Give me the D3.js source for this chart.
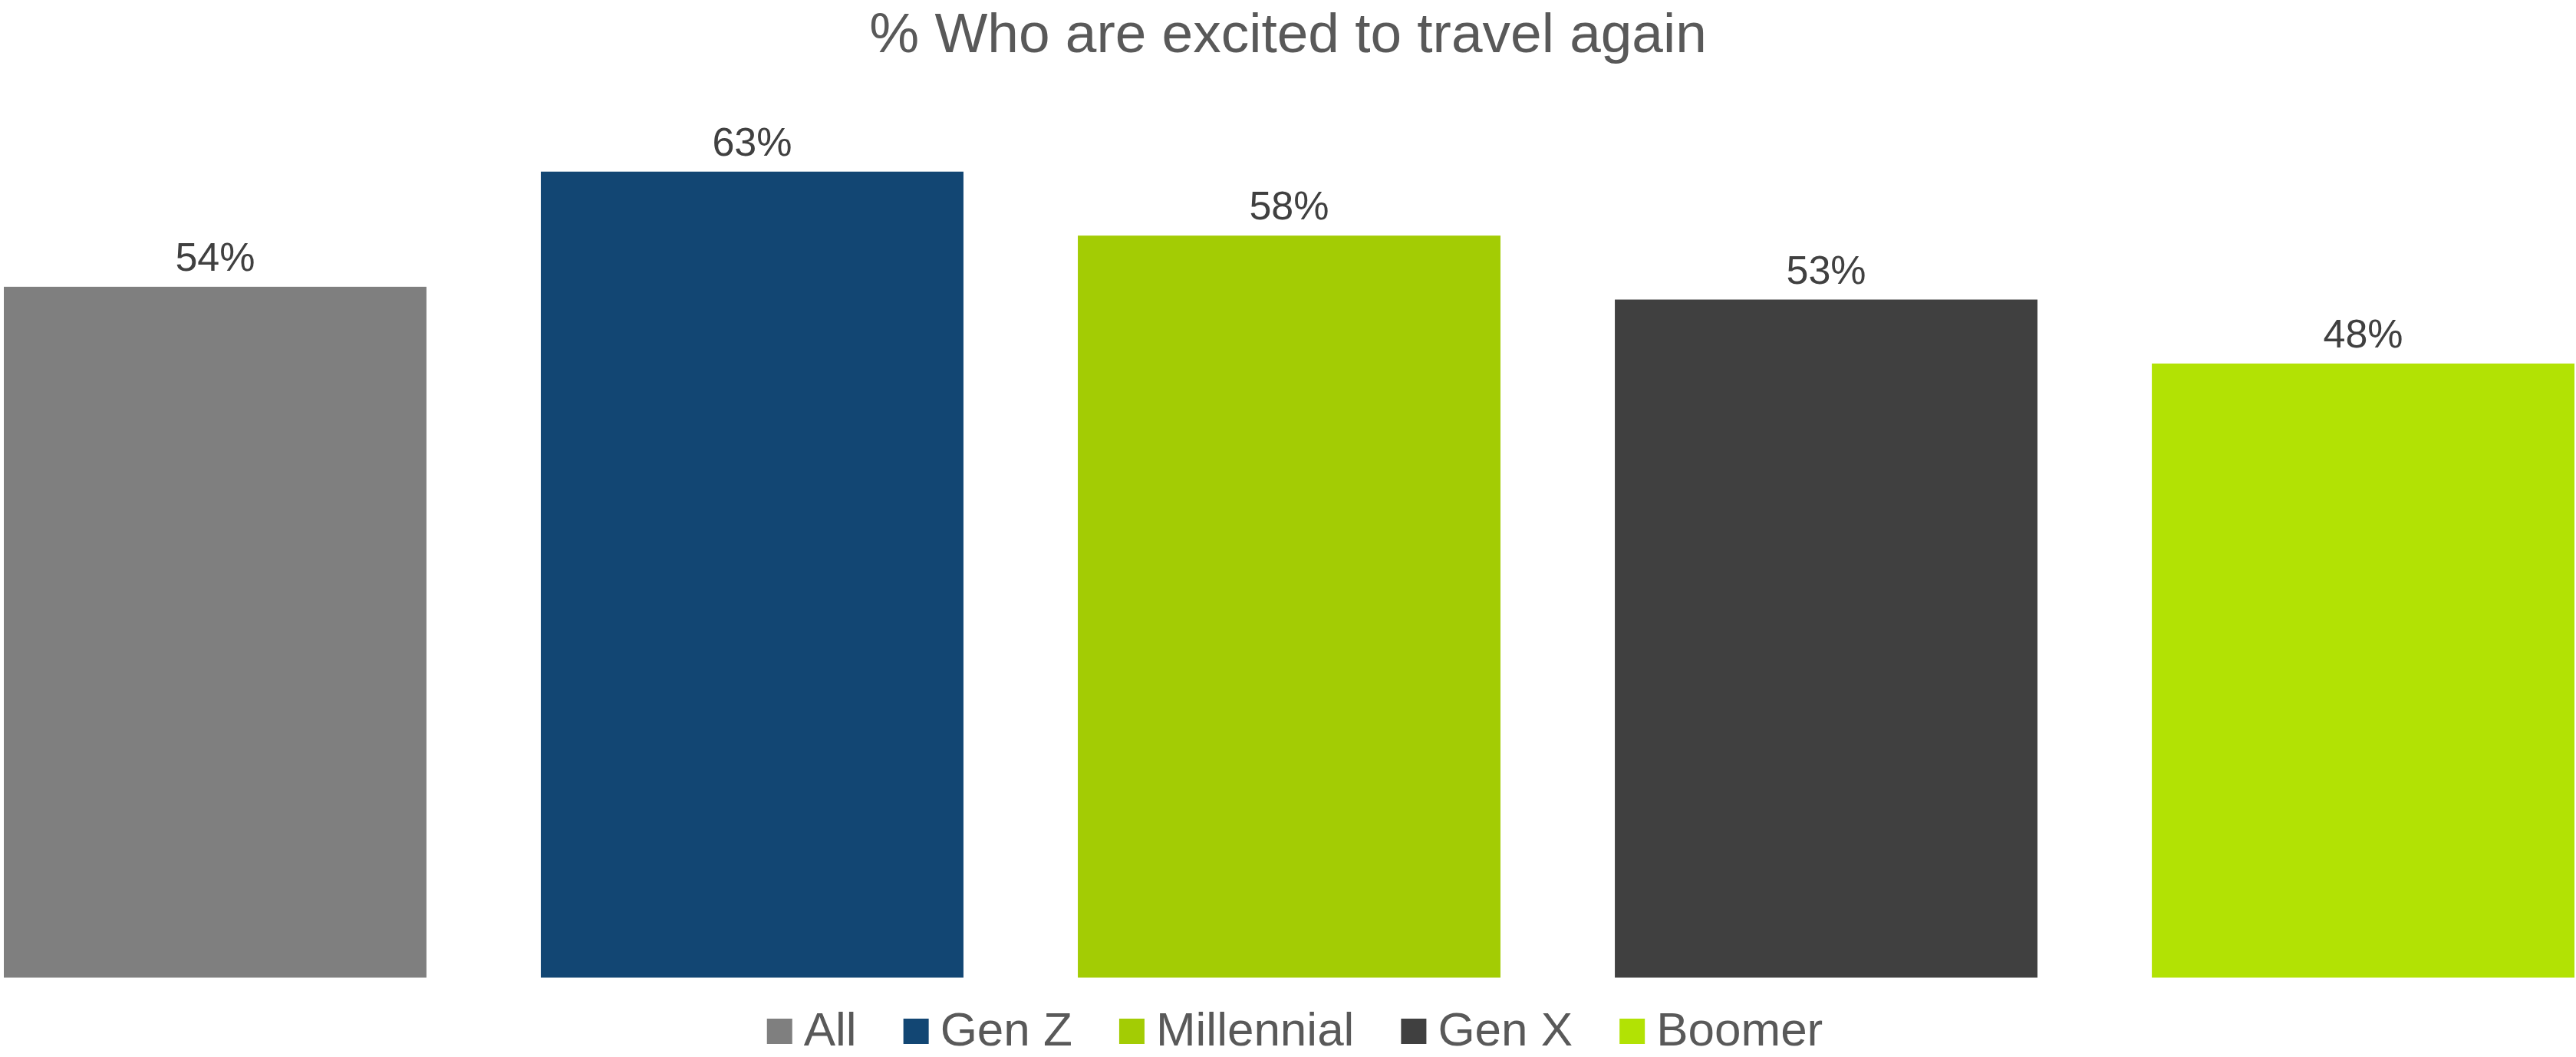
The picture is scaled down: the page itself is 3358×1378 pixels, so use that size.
<!DOCTYPE html>
<html>
<head>
<meta charset="utf-8">
<script src="https://cdn.jsdelivr.net/npm/d3@7"></script>
<style>
  html, body { margin: 0; padding: 0; background: #fff; }
  svg { display: block; font-family: "Liberation Sans", Arial, sans-serif; }
</style>
</head>
<body>
<svg id="chart" width="3358" height="1378"></svg>
<script>
// Share of respondents excited to travel again, by generation
const categories = ["All", "Gen Z", "Millennial", "Gen X", "Boomer"];
const values = [54, 63, 58, 53, 48];
const colors = ["#7f7f7f", "#124673", "#a3cc04", "#404040", "#b2e204"];
const titleText = "% Who are excited to travel again";

const W = 3358, H = 1378;
const svg = d3.select("#chart");

const x = d3.scaleBand()
  .domain(categories)
  .range([5, 3356])
  .paddingInner(0.213)
  .paddingOuter(0);

const y = d3.scaleLinear()
  .domain([0, 70])
  .range([1274.5, 107]);

const color = d3.scaleOrdinal().domain(categories).range(colors);

// title
svg.append("text")
  .attr("x", W / 2)
  .attr("y", 68)
  .attr("text-anchor", "middle")
  .attr("font-size", 73)
  .attr("fill", "#595959")
  .text(titleText);

const data = categories.map((c, i) => ({ cat: c, val: values[i] }));

// bars
svg.append("g").selectAll("rect")
  .data(data)
  .join("rect")
  .attr("x", d => x(d.cat))
  .attr("y", d => y(d.val))
  .attr("width", x.bandwidth())
  .attr("height", d => y(0) - y(d.val))
  .attr("fill", d => color(d.cat));

// value labels
svg.append("g").selectAll("text")
  .data(data)
  .join("text")
  .attr("x", d => x(d.cat) + x.bandwidth() / 2)
  .attr("y", d => y(d.val) - 21)
  .attr("text-anchor", "middle")
  .attr("font-size", 52)
  .attr("fill", "#404040")
  .text(d => d.val + "%");

// legend
const legend = svg.append("g");
const sw = 33, gapIn = 15, gapOut = 61;
const items = legend.selectAll("g")
  .data(categories)
  .join("g");
items.append("rect")
  .attr("width", sw)
  .attr("height", sw)
  .attr("y", 1328)
  .attr("fill", d => color(d));
items.append("text")
  .attr("x", sw + gapIn)
  .attr("y", 1363)
  .attr("font-size", 62)
  .attr("fill", "#595959")
  .text(d => d);

let cx = 0;
const offsets = [];
items.each(function () {
  const w = d3.select(this).select("text").node().getComputedTextLength();
  offsets.push(cx);
  cx += sw + gapIn + w + gapOut;
});
const total = cx - gapOut;
const startX = 1688 - total / 2;
items.attr("transform", (d, i) => `translate(${startX + offsets[i]},0)`);
</script>
</body>
</html>
